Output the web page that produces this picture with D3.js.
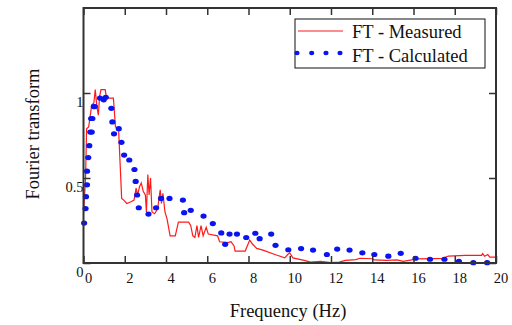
<!DOCTYPE html>
<html>
<head>
<meta charset="utf-8">
<script src="https://cdn.jsdelivr.net/npm/d3@7"></script>
<style>
  body { margin: 0; background: #fff; }
  svg text { font-family: "Liberation Serif", "Times New Roman", serif; fill: #111; }
</style>
</head>
<body>
<svg width="512" height="325"></svg>
<script>
// measured Fourier transform (Hz, amplitude)
var measuredF = [0.0, 0.1, 0.15, 0.25, 0.4, 0.5, 0.57, 0.65, 0.72, 0.78, 0.85, 1.05, 1.12, 1.45, 1.55, 1.7,
  1.85, 1.95, 2.1, 2.3, 2.45, 2.55, 2.62, 2.72, 2.8, 2.9, 3.0, 3.05, 3.12, 3.18, 3.25, 3.32, 3.45, 3.6,
  3.68, 3.72, 3.78, 3.85, 3.95, 4.05, 4.2, 4.45, 4.6, 5.1, 5.2, 5.3, 5.4, 5.5, 5.58, 5.7, 5.8, 5.95,
  6.05, 6.5, 6.6, 7.0, 7.15, 7.3, 7.35, 7.84, 8.06, 8.2, 8.4, 8.7, 9.35, 9.76, 9.9, 10.0, 10.15, 10.7,
  11.0, 11.5, 12.0, 12.4, 12.7, 13.2, 13.4, 14.0, 14.1, 14.7, 15.2, 15.5, 16.2, 17.0, 17.4, 17.7,
  18.5, 19.3, 19.35, 19.45, 19.6, 19.7, 20.0];
var measuredV = [0.29, 0.5, 0.79, 0.8, 0.93, 0.94, 1.02, 0.92, 0.87, 0.98, 1.02, 1.02, 0.97, 0.97, 0.8, 0.79,
  0.38, 0.37, 0.35, 0.36, 0.37, 0.44, 0.40, 0.45, 0.47, 0.42, 0.40, 0.30, 0.52, 0.40, 0.50, 0.30, 0.29, 0.32,
  0.40, 0.43, 0.35, 0.41, 0.30, 0.26, 0.16, 0.16, 0.24, 0.24, 0.22, 0.16, 0.15, 0.22, 0.15, 0.22, 0.16, 0.21,
  0.17, 0.16, 0.125, 0.12, 0.125, 0.10, 0.07, 0.07, 0.135, 0.11, 0.086, 0.076, 0.047, 0.03, 0.05, 0.06, 0.03, 0.015,
  0.005, 0.01, 0.003, 0.005, 0.015, 0.02, 0.028, 0.025, 0.018, 0.015, 0.018, 0.01, 0.024, 0.026, 0.027, 0.041,
  0.045, 0.045, 0.055, 0.04, 0.05, 0.035, 0.034];

// calculated Fourier transform
var calcF = [0.03, 0.1, 0.12, 0.17, 0.17, 0.23, 0.28, 0.33, 0.4, 0.37, 0.43, 0.5, 0.55, 0.8, 0.98, 1.08,
  1.35, 1.4, 1.48, 1.71, 1.84, 1.97, 2.22, 2.47, 2.53, 2.6, 2.68, 3.15, 3.52, 3.76, 4.17, 4.82, 4.88, 5.2,
  5.82, 6.27, 6.68, 6.87, 7.08, 7.44, 7.89, 8.33, 8.54, 9.1, 9.31, 9.93, 10.55, 11.13, 11.8, 12.3, 12.9,
  13.52, 14.1, 14.78, 15.38, 16.1, 16.8, 17.5, 18.2, 18.9, 19.57];
var calcV = [0.235, 0.32, 0.39, 0.46, 0.54, 0.62, 0.69, 0.77, 0.77, 0.85, 0.85, 0.92, 0.92, 0.97, 0.96, 0.975,
  0.91, 0.83, 0.76, 0.79, 0.71, 0.635, 0.606, 0.55, 0.48, 0.4, 0.325, 0.288, 0.325, 0.38, 0.38, 0.37, 0.296, 0.31,
  0.276, 0.232, 0.177, 0.11, 0.17, 0.17, 0.15, 0.175, 0.143, 0.17, 0.104, 0.078, 0.085, 0.076, 0.05, 0.082, 0.076,
  0.06, 0.05, 0.04, 0.057, 0.028, 0.022, 0.022, 0.009, 0.002, 0.002];

var xTicks = [0, 2, 4, 6, 8, 10, 12, 14, 16, 18, 20];
var yTicks = [0, 0.5, 1];
var legendNames = ["FT - Measured", "FT - Calculated"];

function drawChart() {
  var svg = d3.select("svg");
  var mLeft = 83.5, mRight = 496, mTop = 8, mBottom = 263;

  var x = d3.scaleLinear().domain([0, 20]).range([mLeft, mRight]);
  var y = d3.scaleLinear().domain([0, 1.5]).range([mBottom, mTop]);

  var measured = measuredF.map(function(f, i) { return [f, measuredV[i]]; });
  var calculated = calcF.map(function(f, i) { return [f, calcV[i]]; });

  // measured line
  svg.append("path")
    .datum(measured)
    .attr("fill", "none").attr("stroke", "#ff1a1a").attr("stroke-width", 1.2)
    .attr("d", d3.line().x(function(d) { return x(d[0]); }).y(function(d) { return y(d[1]); }));

  // calculated dots
  svg.selectAll("ellipse.calc")
    .data(calculated)
    .enter().append("ellipse").attr("class", "calc")
    .attr("cx", function(d) { return x(d[0]); })
    .attr("cy", function(d) { return y(d[1]); })
    .attr("rx", 3.1).attr("ry", 2.6)
    .attr("fill", "#0a14f0");

  // axes, ticks pointing inward
  var gx = svg.append("g").attr("transform", "translate(0," + mBottom + ")")
    .call(d3.axisBottom(x).tickValues(xTicks).tickSize(-7).tickPadding(10).tickFormat(d3.format("d")));
  gx.selectAll("text").attr("dx", 4.5).style("font-size", "14.5px");

  svg.append("g").attr("transform", "translate(0," + mTop + ")")
    .call(d3.axisTop(x).tickValues(xTicks).tickSize(-7).tickFormat(""));

  var gy = svg.append("g").attr("transform", "translate(" + mLeft + ",0)")
    .call(d3.axisLeft(y).tickValues(yTicks).tickSize(-7).tickPadding(0).tickFormat(function(d) { return d; }));
  gy.selectAll("text").attr("x", 0).attr("dy", "0.95em").style("font-size", "14.5px");

  svg.append("g").attr("transform", "translate(" + mRight + ",0)")
    .call(d3.axisRight(y).tickValues(yTicks).tickSize(-7).tickFormat(""));

  svg.selectAll(".domain").remove();
  svg.selectAll(".tick line").attr("stroke", "#333").attr("stroke-width", 1.5);

  // frame
  svg.append("rect")
    .attr("x", mLeft).attr("y", mTop).attr("width", mRight - mLeft).attr("height", mBottom - mTop)
    .attr("fill", "none").attr("stroke", "#333").attr("stroke-width", 2);

  // axis titles
  svg.append("text")
    .attr("x", 288).attr("y", 316.5).attr("text-anchor", "middle")
    .style("font-size", "18.5px").text("Frequency (Hz)");
  svg.append("text")
    .attr("transform", "translate(38.5,134) rotate(-90)").attr("text-anchor", "middle")
    .style("font-size", "18.5px").text("Fourier transform");

  // legend
  var lg = svg.append("g");
  lg.append("rect").attr("x", 295).attr("y", 19).attr("width", 190).attr("height", 49)
    .attr("fill", "#fff").attr("stroke", "#111").attr("stroke-width", 1);
  lg.append("line").attr("x1", 298).attr("x2", 343).attr("y1", 31).attr("y2", 31)
    .attr("stroke", "#ff1a1a").attr("stroke-width", 1.2);
  lg.selectAll("ellipse")
    .data([297, 311.7, 326, 340])
    .enter().append("ellipse")
    .attr("cx", function(d) { return d; }).attr("cy", 53)
    .attr("rx", 2.6).attr("ry", 2.2).attr("fill", "#0a14f0");
  lg.selectAll("text")
    .data(legendNames)
    .enter().append("text")
    .attr("x", 352).attr("y", function(d, i) { return 38 + i * 24; })
    .style("font-size", "18.5px").text(function(d) { return d; });
}

drawChart();
</script>
</body>
</html>
